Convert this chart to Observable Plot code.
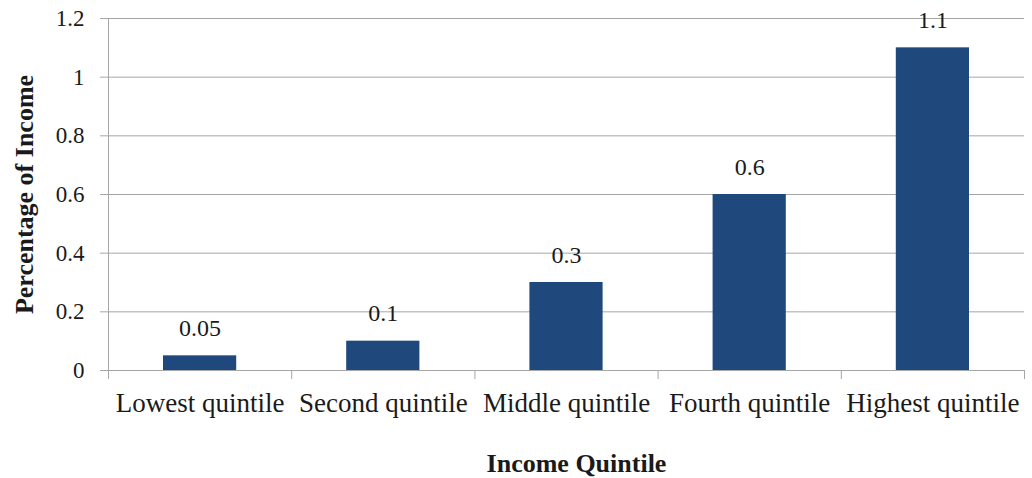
<!DOCTYPE html>
<html>
<head>
<meta charset="utf-8">
<script src="https://cdn.jsdelivr.net/npm/d3@7"></script>
<script src="https://cdn.jsdelivr.net/npm/@observablehq/plot@0.6"></script>
<style>
  html, body { margin: 0; padding: 0; background: #fff; }
  svg { font-family: "Liberation Serif", "DejaVu Serif", serif; }
</style>
</head>
<body>
<div id="chart"></div>
<script>
const categories = ["Lowest quintile", "Second quintile", "Middle quintile", "Fourth quintile", "Highest quintile"];
const values = [0.05, 0.1, 0.3, 0.6, 1.1];
const valueLabels = ["0.05", "0.1", "0.3", "0.6", "1.1"];
const yTicks = [0, 0.2, 0.4, 0.6, 0.8, 1, 1.2];
const yTitle = "Percentage of Income";
const xTitle = "Income Quintile";

const rows = categories.map((c, i) => ({cat: c, i, value: values[i], label: valueLabels[i]}));
const boundaries = d3.range(categories.length + 1);

const grid = "#a6a6a6";
const textColor = "#1a1a1a";

const chart = Plot.plot({
  width: 1032,
  height: 478,
  marginTop: 18,
  marginBottom: 108,
  marginLeft: 108,
  marginRight: 8,
  x: {type: "linear", domain: [0, categories.length]},
  y: {domain: [0, 1.2]},
  marks: [
    Plot.gridY(yTicks, {stroke: grid, strokeOpacity: 1, strokeWidth: 1}),
    Plot.axisY(yTicks, {tickSize: 8, tickPadding: 16, stroke: grid, fontSize: 23, fill: textColor, label: null, tickFormat: d3.format("")}),
    Plot.ruleX([0], {y1: 0, y2: 1.2, stroke: grid}),
    Plot.axisX(boundaries, {tickSize: 9, tickFormat: () => "", stroke: grid, label: null}),
    Plot.rectY(rows, {x1: d => d.i, x2: d => d.i + 1, y: "value", fill: "#1f497d", insetLeft: 55, insetRight: 55}),
    Plot.text(rows, {x: d => d.i + 0.5, y: "value", text: "label", dy: -20, lineAnchor: "bottom", fontSize: 24, fill: textColor}),
    Plot.text(rows, {x: d => d.i + 0.5, text: "cat", frameAnchor: "bottom", lineAnchor: "middle", textAnchor: "middle", dy: 33, fontSize: 27, fill: textColor}),
    Plot.text([yTitle], {frameAnchor: "left", textAnchor: "middle", lineAnchor: "middle", rotate: -90, dx: -84, fontSize: 26, fontWeight: "bold", fill: textColor}),
    Plot.text([xTitle], {frameAnchor: "bottom", textAnchor: "middle", lineAnchor: "middle", dy: 93, dx: 10, fontSize: 26, fontWeight: "bold", fill: textColor})
  ]
});
document.getElementById("chart").appendChild(chart);
</script>
</body>
</html>
